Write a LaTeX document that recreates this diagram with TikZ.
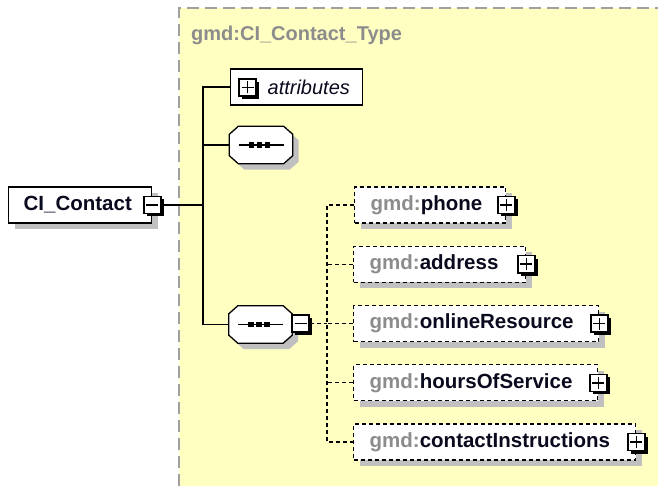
\documentclass[tikz,border=0pt]{standalone}
\usepackage{fontspec}
\setmainfont{Liberation Sans}
\usetikzlibrary{shadows}

\definecolor{paneyellow}{RGB}{255,255,194}
\definecolor{panegray}{RGB}{160,160,160}
\definecolor{shadowgray}{RGB}{192,192,192}
\definecolor{nsgray}{RGB}{140,140,140}
\definecolor{labelink}{RGB}{10,10,30}

\tikzset{
  boxshadow/.style={drop shadow={shadow xshift=6pt, shadow yshift=-6pt, fill=shadowgray, opacity=1}},
  dashline/.style={dash pattern=on 4pt off 3pt},
  conn/.style={line width=1.3pt, black},
  dconn/.style={line width=1.4pt, black, dashline},
  elem/.style={draw, dashline, line width=1.4pt, fill=white, boxshadow, anchor=west,
    minimum height=36pt, inner xsep=16pt, inner ysep=0pt, text width=#1, align=left,
    font=\fontsize{20.5}{24}\selectfont\bfseries, text=labelink},
  solidbox/.style={draw, line width=1.3pt, fill=white, anchor=west, minimum height=36pt,
    inner ysep=0pt, align=left, text=labelink},
  compositor/.style={rectangle, minimum width=63pt, minimum height=37pt, inner sep=0pt},
  octline/.style={line width=1.3pt, fill=white, boxshadow},
  toggle/.style={draw, line width=1.5pt, fill=white, minimum size=17pt, inner sep=0pt,
    drop shadow={shadow xshift=3pt, shadow yshift=-3pt, fill=black, opacity=1}},
  plusbox/.style={toggle, path picture={
    \draw[line width=1.6pt] ([xshift=-6pt]path picture bounding box.center) -- ([xshift=6pt]path picture bounding box.center)
      ([yshift=-6pt]path picture bounding box.center) -- ([yshift=6pt]path picture bounding box.center);}},
  minusbox/.style={toggle, path picture={
    \draw[line width=1.6pt] ([xshift=-6pt]path picture bounding box.center) -- ([xshift=6pt]path picture bounding box.center);}},
  seqglyph/.pic={
    \draw[line width=1.4pt] (-22.5,0) -- (22.5,0);
    \foreach \dx in {-9.5,-1.5,6.5} \fill (\dx-2.7,-2.7) rectangle (\dx+2.7,2.7);
  }
}

% octagonal outline of a compositor node
\newcommand\octagonof[1]{%
  \path[octline, draw] ([xshift=9pt]#1.north west) -- ([xshift=-9pt]#1.north east)
    -- ([yshift=-8pt]#1.north east) -- ([yshift=8pt]#1.south east)
    -- ([xshift=-9pt]#1.south east) -- ([xshift=9pt]#1.south west)
    -- ([yshift=8pt]#1.south west) -- ([yshift=-8pt]#1.north west) -- cycle;}

\begin{document}
\begin{tikzpicture}[x=1pt,y=-1pt]
  \useasboundingbox (0,0) rectangle (658,486);

  % complex type panel
  \fill[paneyellow] (179,8) rectangle (658,486);
  \draw[panegray, line width=1.6pt, dash pattern=on 12pt off 6pt] (179,486) -- (179,8) -- (658,8);
  \node[anchor=west, inner sep=0pt, text=nsgray, font=\fontsize{20}{24}\selectfont\bfseries]
    (typename) at (191,35) {gmd:CI\_Contact\_Type};

  % root element
  \node[solidbox, boxshadow, inner xsep=15pt, text width=113pt, font=\fontsize{20.5}{24}\selectfont\bfseries]
    (root) at (8,205) {CI\_Contact};
  \node[minusbox] (roottog) at (root.east) {};

  % attributes
  \node[solidbox, inner xsep=0pt, text width=132pt, font=\fontsize{20}{24}\selectfont\itshape]
    (attr) at (230,87) {\hspace*{37pt}attributes};
  \node[plusbox] (attrtog) at (247.5,87.5) {};

  % sequence compositors
  \node[compositor] (seqA) at (261,145) {};
  \octagonof{seqA}
  \pic at (seqA.center) {seqglyph};
  \node[compositor] (seqB) at (260.5,324.5) {};
  \octagonof{seqB}
  \pic at (seqB.center) {seqglyph};
  \node[minusbox] (seqBtog) at (300.5,323.5) {};

  % child elements
  \node[elem=119pt] (phone)   at (354,205)    {\textcolor{nsgray}{gmd:}phone};
  \node[elem=140pt] (address) at (353,264.25) {\textcolor{nsgray}{gmd:}address};
  \node[elem=213pt] (online)  at (353,323.5)  {\textcolor{nsgray}{gmd:}onlineResource};
  \node[elem=212pt] (hours)   at (353,382.75) {\textcolor{nsgray}{gmd:}hoursOfService};
  \node[elem=250pt] (instr)   at (353,442)    {\textcolor{nsgray}{gmd:}contactInstructions};
  \foreach \n in {phone,address,online,hours,instr}
    \node[plusbox] (\n tog) at (\n.east) {};

  % solid connectors of the content model
  \coordinate (bus) at (203,0);
  \draw[conn] (attr.west) -- (attr.west -| bus) |- (seqB.west);
  \draw[conn] (seqA.west) -- (seqA.west -| bus);
  \draw[conn] (roottog.east) -- (roottog.east -| bus);

  % dashed connectors of the optional children
  \coordinate (cbus) at (327,0);
  \draw[dconn] (seqBtog.east) -- (seqBtog.east -| cbus);
  \draw[dconn] (phone.west) -- (phone.west -| cbus) |- (instr.west);
  \foreach \n in {address,online,hours}
    \draw[dconn] (\n.west) -- (\n.west -| cbus);
\end{tikzpicture}
\end{document}
